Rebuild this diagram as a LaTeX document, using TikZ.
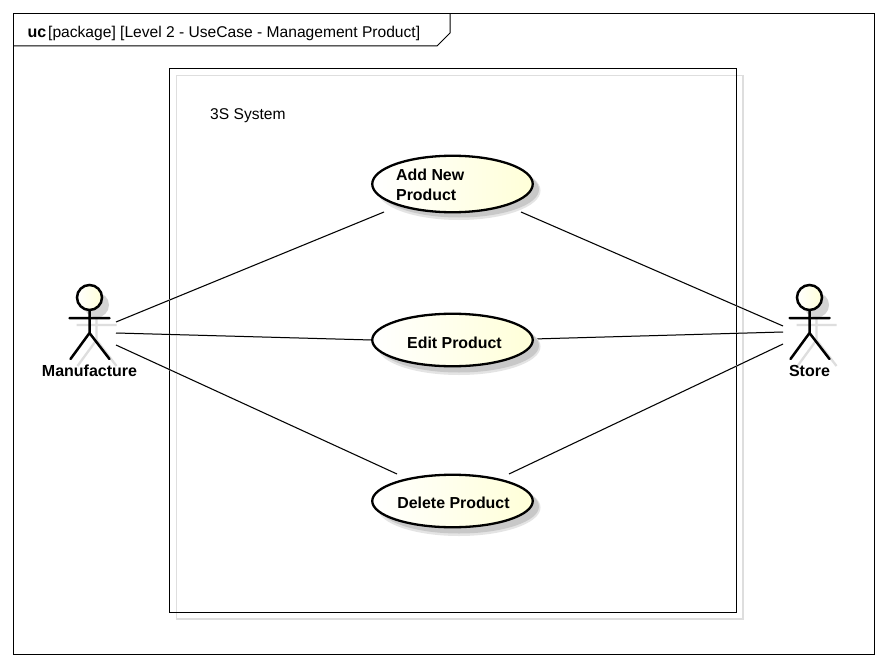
\documentclass[tikz,border=0pt]{standalone}
\usepackage{fontspec}
\setmainfont{Liberation Sans}
\usetikzlibrary{calc,shapes.geometric}
\definecolor{shline}{HTML}{DEDEDE}
\definecolor{shell}{HTML}{C8C8C8}
\definecolor{shsoft}{HTML}{E4E4E4}
\definecolor{ucyellow}{HTML}{FFFFD8}
\tikzset{
  x=1pt,y=-1pt,
  frameline/.style={draw=black,line width=1pt},
  assoc/.style={draw=black,line width=1pt},
  assocshadow/.style={draw=shline,line width=1.3pt},
  usecase/.style={ellipse,draw=black,line width=2.3pt,left color=white,right color=ucyellow,minimum width=160.5pt,inner sep=0pt,align=left},
  ucshadow/.style={ellipse,fill=shell,minimum width=160pt,inner sep=0pt},
  ucsoft/.style={ellipse,fill=shsoft,minimum width=163pt,inner sep=0pt},
  ucfont/.style={font=\fontsize{15.9}{21}\selectfont\bfseries},
  actorline/.style={draw=black,line width=2.5pt},
  actorshadow/.style={draw=shline,line width=2.3pt},
  actorname/.style={font=\fontsize{16}{18}\selectfont\bfseries,inner sep=0pt},
  plain/.style={font=\fontsize{15.6}{18}\selectfont,inner sep=0pt,anchor=base west},
}
\newcommand{\actorfig}[2]{%
  \begin{scope}[shift={(#1+7,#2+7)}]
    \fill[shell!80] (0,-20) circle (12.5);
    \draw[actorshadow] (-20,0)--(20,0) (0,-8)--(0,15) (-19,41)--(0,15)--(20,41);
  \end{scope}
  \begin{scope}[shift={(#1,#2)}]
    \draw[actorline,line cap=round] (-20,0)--(20,0) (0,-8)--(0,15) (-19,41)--(0,15)--(20,41);
    \draw[actorline,left color=white,right color=ucyellow] (0,-20.5) circle (12.5);
  \end{scope}
}
\begin{document}
\begin{tikzpicture}
\useasboundingbox (0,0) rectangle (886,666);
\fill[white] (0,0) rectangle (886,666);
% frame
\draw[frameline] (13.5,13.5) rectangle (874.5,654.5);
\draw[frameline] (13.5,46) -- (437,46) -- (450,33) -- (450,13.5);
\node[plain,font=\fontsize{16}{18}\selectfont\bfseries] (uc) at (27.5,37.5) {uc};
\node[plain] (title) at (48,37.5) {[package] [Level 2 - UseCase - Management Product]};
% system boundary
\draw[draw=shline,line width=1.3pt] (176.5,75.5) rectangle (743,619);
\draw[frameline] (169.5,68.5) rectangle (736.5,612.5);
\node[plain] (sys) at (210,119.5) {3S System};
% connector end points
\coordinate (m1) at (116,322); \coordinate (m2) at (116,333); \coordinate (m3) at (116,345);
\coordinate (s1) at (783,326); \coordinate (s2) at (783,332); \coordinate (s3) at (783,344);
\coordinate (a1) at (384,212); \coordinate (a2) at (521,212);
\coordinate (e1) at (372,340); \coordinate (e2) at (533,339);
\coordinate (d1) at (397,474); \coordinate (d2) at (509,474);
% connector shadows
\begin{scope}[shift={(7,6)}]
\draw[assocshadow] (m1)--(a1) (m2)--(e1) (m3)--(d1) (a2)--(s1) (e2)--(s2) (d2)--(s3);
\end{scope}
% connectors
\draw[assoc] (m1)--(a1);
\draw[assoc] (m2)--(e1);
\draw[assoc] (m3)--(d1);
\draw[assoc] (a2)--(s1);
\draw[assoc] (e2)--(s2);
\draw[assoc] (d2)--(s3);
% use cases
\node[ucsoft,minimum height=59pt] at (459,190.5) {};
\node[ucsoft,minimum height=57pt] at (459,346.5) {};
\node[ucsoft,minimum height=57pt] at (459,507.5) {};
\node[ucshadow,minimum height=56pt] at (459,189.5) {};
\node[ucshadow,minimum height=54pt] at (459,345.5) {};
\node[ucshadow,minimum height=54pt] at (459,506.5) {};
\node[usecase,minimum height=56.5pt] (add) at (452.5,184) {};
\node[usecase,minimum height=52.5pt] (edit) at (452.5,340) {};
\node[usecase,minimum height=52.5pt] (del) at (452.5,501) {};
\node[ucfont,anchor=base west,inner sep=0pt] (addt1) at (396,180) {Add New};
\node[ucfont,anchor=base west,inner sep=0pt] (addt2) at (396,200) {Product};
\node[ucfont,anchor=base,inner sep=0pt] (editt) at (454.5,348) {Edit Product};
\node[ucfont,anchor=base,inner sep=0pt] (delt) at (453.5,508) {Delete Product};
% actors
\actorfig{89.5}{318}
\actorfig{809.5}{318}
\node[actorname,anchor=base] (mname) at (89.5,376) {Manufacture};
\node[actorname,anchor=base] (sname) at (809.5,376) {Store};
\end{tikzpicture}
\end{document}
